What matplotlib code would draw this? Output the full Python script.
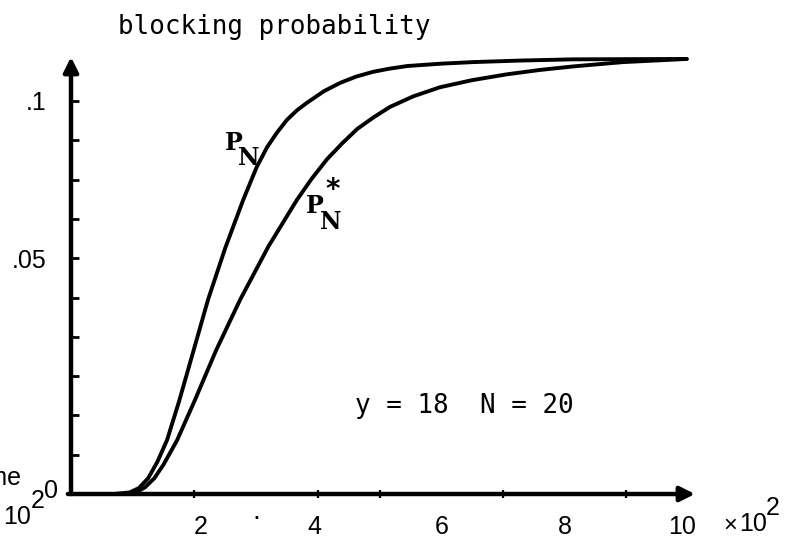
import matplotlib
matplotlib.use("Agg")
import matplotlib.pyplot as plt

# time axis in units of 10^2
t_pn = [0.70, 0.95, 1.10, 1.25, 1.40, 1.556, 1.75, 1.95, 2.22, 2.50, 2.79, 3.01,
        3.18, 3.34, 3.50, 3.66, 3.82, 4.10, 4.36, 4.62, 4.89, 5.15, 5.45, 6.00,
        6.52, 7.30, 8.14, 9.98]
p_n = [0.0, 0.0004, 0.0015, 0.0040, 0.0082, 0.0137, 0.0235, 0.0345, 0.0494, 0.0626,
       0.0748, 0.0832, 0.0883, 0.0920, 0.0952, 0.0976, 0.0995, 0.1025, 0.1046,
       0.1062, 0.1074, 0.1082, 0.1089, 0.1095, 0.1099, 0.1103, 0.1106, 0.1107]

t_pn_star = [0.85, 1.05, 1.20, 1.35, 1.50, 1.72, 2.00, 2.35, 2.74, 3.20, 3.66, 3.90,
             4.15, 4.40, 4.64, 4.90, 5.17, 5.55, 5.98, 6.50, 7.07, 7.60, 8.14, 8.95,
             9.98]
p_n_star = [0.0, 0.0004, 0.0017, 0.0040, 0.0075, 0.0137, 0.0236, 0.0365, 0.0494,
            0.0630, 0.0748, 0.0802, 0.0852, 0.0893, 0.0929, 0.0958, 0.0985, 0.1012,
            0.1035, 0.1053, 0.1068, 0.1079, 0.1088, 0.1099, 0.1107]

x_tick_marks = [2, 4, 5, 6, 7, 8, 9]
x_tick_labels = ["2", "4", "6", "8", "10"]
x_label_pos = [2.1, 3.95, 6.0, 8.0, 9.9]
y_ticks = [0.01, 0.02, 0.03, 0.04, 0.05, 0.06, 0.07, 0.08, 0.09, 0.10]
y_tick_labels = ["", "", "", "", "", ".05", "", "", "", ".1"]

W, H = 798, 549
fig = plt.figure(figsize=(W / 100, H / 100), dpi=100)


def px(x, y):
    return x / W, 1 - y / H


left, right, bottom, top = 71, 695, 494, 57
ax = fig.add_axes([left / W, 1 - bottom / H, (right - left) / W, (bottom - top) / H])
ax.set_xlim(0, (right - left) / 61.7)
ax.set_ylim(0, (bottom - top) / 3930)
for s in ax.spines.values():
    s.set_visible(False)
ax.patch.set_alpha(0)

tick_font = dict(family="Liberation Sans", size=18)

# axes drawn as arrows
arrow = dict(arrowstyle="-|>", lw=3.2, color="black", mutation_scale=22,
             shrinkA=0, shrinkB=0)
ax.annotate("", xy=(0, 1), xytext=(0, 0), xycoords="axes fraction",
            arrowprops=arrow, annotation_clip=False)
ax.annotate("", xy=(1, 0), xytext=(-0.005, 0), xycoords="axes fraction",
            arrowprops=arrow, annotation_clip=False)

ax.set_yticks(y_ticks)
ax.set_yticklabels(y_tick_labels, fontdict=tick_font)
ax.tick_params(axis="y", direction="in", length=6, width=2, pad=18)

ax.set_xticks(x_label_pos)
ax.set_xticklabels(x_tick_labels, fontdict=tick_font)
ax.tick_params(axis="x", length=0, pad=15)
ax.set_xticks(x_tick_marks, minor=True)
ax.tick_params(axis="x", which="minor", direction="inout", length=6, width=1.6)

ax.plot(t_pn, p_n, color="black", lw=2.8, solid_capstyle="round",
        solid_joinstyle="round")
ax.plot(t_pn_star, p_n_star, color="black", lw=2.8, solid_capstyle="round",
        solid_joinstyle="round")

mono = dict(family="DejaVu Sans Mono", size=18.6)
fig.text(*px(118, 27), "blocking probability", ha="left", va="center", **mono)
fig.text(*px(355, 406), "y = 18  N = 20", ha="left", va="center", **mono)

serif = dict(family="DejaVu Serif", weight="bold", size=17)
fig.text(*px(234, 143), "P", ha="center", va="center", **serif)
fig.text(*px(249, 158), "N", ha="center", va="center", **serif)
fig.text(*px(315, 206), "P", ha="center", va="center", **serif)
fig.text(*px(333, 190), "*", ha="center", va="center", family="DejaVu Sans",
         weight="bold", size=20)
fig.text(*px(331, 222), "N", ha="center", va="center", **serif)

fig.text(*px(51, 491), "0", ha="center", va="center", **tick_font)

# labels of the neighbouring panel, running off the left edge
fig.text(*px(22, 478), "time", ha="right", va="center", **tick_font)
fig.text(*px(31, 517), "10", ha="right", va="center", **tick_font)
fig.text(*px(38, 501), "2", ha="center", va="center", **tick_font)

fig.text(*px(730, 526), "×", ha="center", va="center", family="Liberation Sans",
         size=17)
fig.text(*px(753, 524), "10", ha="center", va="center", **tick_font)
fig.text(*px(773, 508), "2", ha="center", va="center", **tick_font)
fig.text(*px(256, 519), "·", ha="center", va="center", size=18)

fig.savefig("out.png", dpi=100)
